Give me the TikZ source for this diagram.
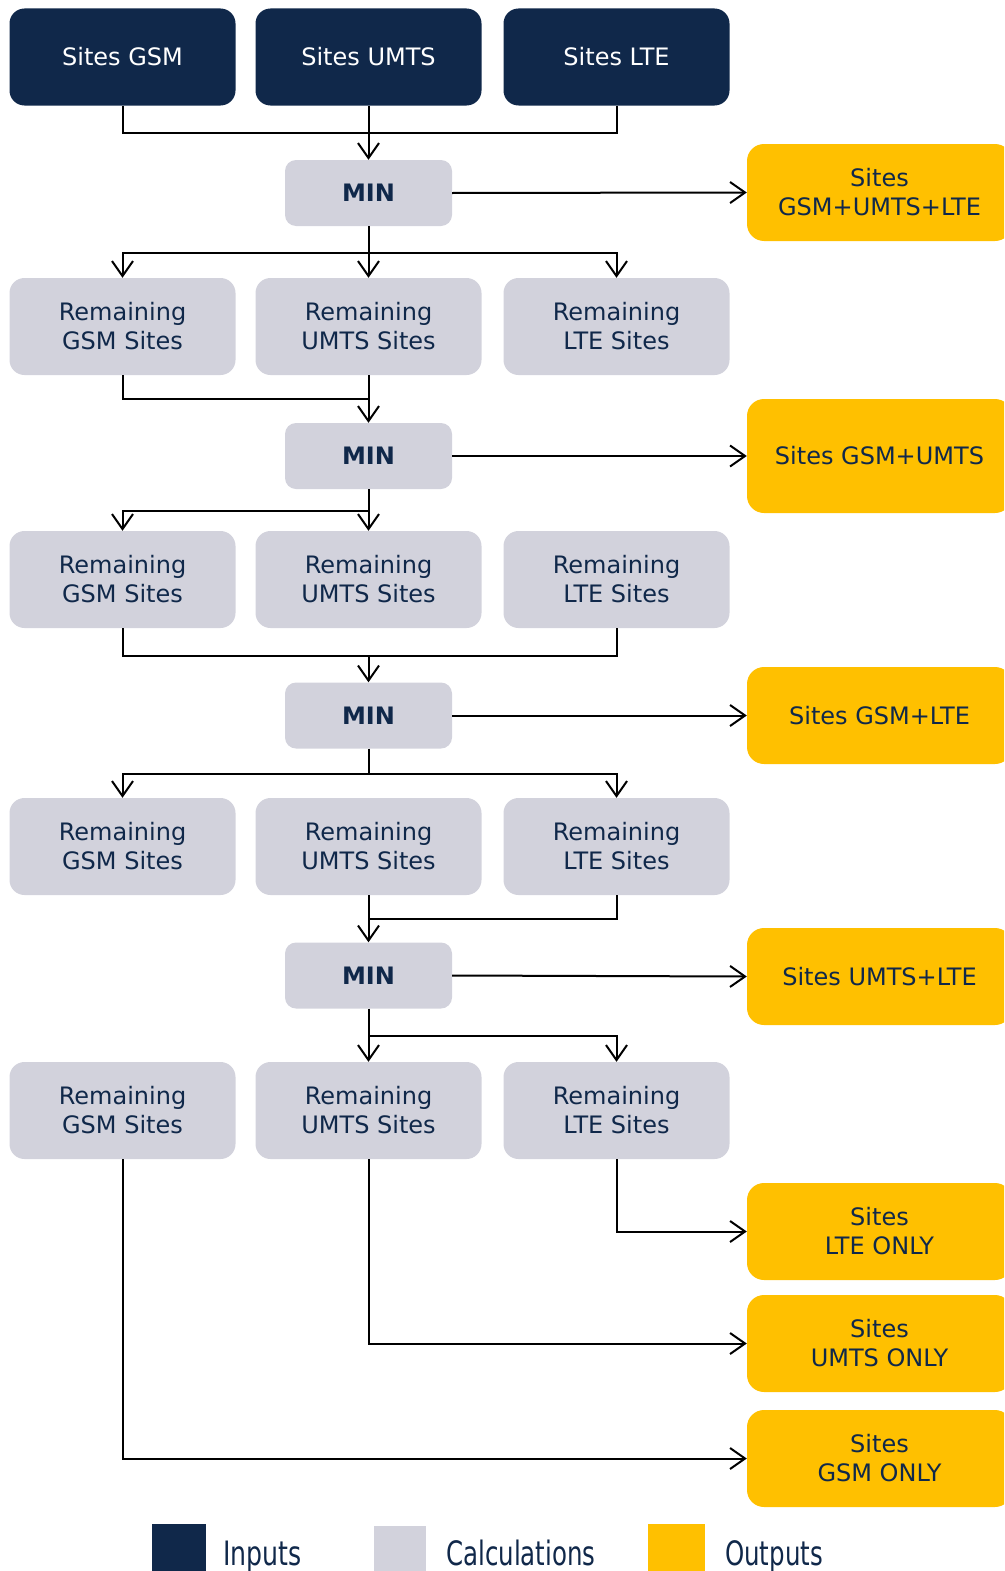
\documentclass[tikz,border=0pt]{standalone}
\usepackage{fontspec}
\setmainfont{DejaVu Sans}
\usetikzlibrary{arrows.meta}
\definecolor{navy}{HTML}{10284A}
\definecolor{calc}{HTML}{D2D2DC}
\definecolor{outc}{HTML}{FFC000}
\begin{document}
\begin{tikzpicture}[x=1pt,y=-1pt,
  inbox/.style={fill=navy,text=white,rounded corners=15pt,minimum width=226pt,minimum height=97pt,font=\fontsize{24}{29}\selectfont,align=center,inner sep=0pt},
  calcbox/.style={fill=calc,text=navy,rounded corners=15pt,minimum width=226pt,minimum height=97pt,font=\fontsize{24}{29}\selectfont,align=center,inner sep=0pt},
  minbox/.style={fill=calc,text=navy,rounded corners=11pt,minimum width=167pt,minimum height=66pt,font=\fontsize{24}{29}\selectfont\bfseries,inner sep=0pt},
  outbox/.style={fill=outc,text=navy,rounded corners=17pt,minimum width=265pt,minimum height=97pt,font=\fontsize{24}{29}\selectfont,align=center,inner sep=0pt},
  conn/.style={draw=black,line width=2pt},
  arr/.style={conn,-{Straight Barb[length=15pt,width=21pt,line width=2pt]}},
  legtext/.style={anchor=base west,text=navy,inner sep=0pt,font=\fontsize{24}{29}\selectfont}
]
\useasboundingbox (0,0) rectangle (1004,1571);
\clip (0,0) rectangle (1004,1571);
% inputs
\node[inbox] (g1) at (122.5,57) {Sites GSM};
\node[inbox] (u1) at (368.5,57) {Sites UMTS};
\node[inbox] (l1) at (616.5,57) {Sites LTE};
% MIN boxes
\node[minbox] (m1) at (368.5,193) {MIN};
\node[minbox] (m2) at (368.5,456) {MIN};
\node[minbox] (m3) at (368.5,715.5) {MIN};
\node[minbox] (m4) at (368.5,975.5) {MIN};
% rows
\foreach \r/\y in {2/326.5,3/579.5,4/846.5,5/1110.5}{
  \node[calcbox] (g\r) at (122.5,\y) {Remaining\\GSM Sites};
  \node[calcbox] (u\r) at (368.5,\y) {Remaining\\UMTS Sites};
  \node[calcbox] (l\r) at (616.5,\y) {Remaining\\LTE Sites};
}
% outputs
\node[outbox,minimum height=97pt] (o1) at (879.5,192.5) {Sites\\GSM+UMTS+LTE};
\node[outbox,minimum height=114pt] (o2) at (879.5,456) {Sites GSM+UMTS};
\node[outbox] (o3) at (879.5,715.5) {Sites GSM+LTE};
\node[outbox] (o4) at (879.5,976.5) {Sites UMTS+LTE};
\node[outbox] (o5) at (879.5,1231.5) {Sites\\LTE ONLY};
\node[outbox] (o6) at (879.5,1343.5) {Sites\\UMTS ONLY};
\node[outbox] (o7) at (879.5,1458.5) {Sites\\GSM ONLY};
% junction coordinates
\coordinate (j1) at (368.5,133);
\coordinate (j2) at (368.5,253);
\coordinate (j3) at (368.5,399);
\coordinate (j4) at (368.5,511);
\coordinate (j5) at (368.5,656);
\coordinate (j6) at (368.5,774);
\coordinate (j7) at (368.5,919);
\coordinate (j8) at (368.5,1036);
% stage 1
\draw[conn] (g1.south) |- (j1);
\draw[conn] (l1.south) |- (j1);
\draw[arr] (u1.south) -- (m1.north);
\draw[arr] (m1.east) -- (o1.west);
\draw[conn] (m1.south) -- (j2);
\draw[arr] (j2) -| (g2.north);
\draw[arr] (j2) -| (l2.north);
\draw[arr] (j2) -- (u2.north);
% stage 2
\draw[conn] (g2.south) |- (j3);
\draw[arr] (u2.south) -- (m2.north);
\draw[arr] (m2.east) -- (o2.west);
\draw[conn] (m2.south) -- (j4);
\draw[arr] (j4) -| (g3.north);
\draw[arr] (j4) -- (u3.north);
% stage 3
\draw[conn] (g3.south) |- (j5);
\draw[conn] (l3.south) |- (j5);
\draw[arr] (j5) -- (m3.north);
\draw[arr] (m3.east) -- (o3.west);
\draw[conn] (m3.south) -- (j6);
\draw[arr] (j6) -| (g4.north);
\draw[arr] (j6) -| (l4.north);
% stage 4
\draw[conn] (l4.south) |- (j7);
\draw[arr] (u4.south) -- (m4.north);
\draw[arr] (m4.east) -- (o4.west);
\draw[conn] (m4.south) -- (j8);
\draw[arr] (j8) -| (l5.north);
\draw[arr] (j8) -- (u5.north);
% final
\draw[arr] (l5.south) |- (o5.west);
\draw[arr] (u5.south) |- (o6.west);
\draw[arr] (g5.south) |- (o7.west);
% legend
\fill[navy] (152,1524) rectangle (206,1575);
\fill[calc] (374,1526) rectangle (426,1575);
\fill[outc] (648,1524) rectangle (705,1575);
\node[legtext] (li) at (223,1565) {\scalebox{1.05}[1.4]{Inputs}};
\node[legtext] (lc) at (446,1565) {\scalebox{1.02}[1.4]{Calculations}};
\node[legtext] (lo) at (725,1565) {\scalebox{1.02}[1.4]{Outputs}};
\end{tikzpicture}
\end{document}
